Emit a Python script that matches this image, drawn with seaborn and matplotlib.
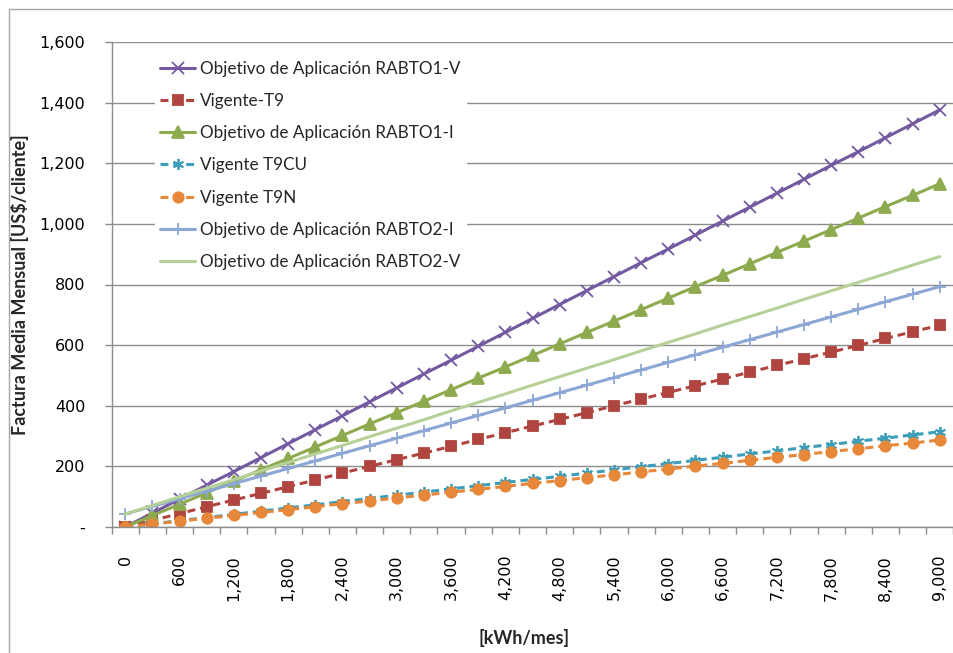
import matplotlib
matplotlib.use("Agg")
import matplotlib.pyplot as plt
from matplotlib.lines import Line2D
from matplotlib.ticker import FixedLocator, FuncFormatter
import seaborn as sns

# Monthly consumption categories [kWh/mes]
kwh = list(range(0, 9001, 300))

# Average monthly bill [US$/cliente] per tariff
rabto1_v = [0, 46, 92, 138, 183, 229, 275, 321, 367, 413, 459, 505, 550, 596, 642, 688,
            734, 780, 826, 872, 917, 963, 1009, 1055, 1101, 1147, 1193, 1238, 1284, 1330, 1376]
vigente_t9 = [0, 22, 44, 67, 89, 111, 133, 155, 178, 200, 222, 244, 266, 289, 311, 333,
              355, 377, 400, 422, 444, 466, 488, 511, 533, 555, 577, 599, 622, 644, 666]
rabto1_i = [0, 38, 75, 113, 151, 189, 226, 264, 302, 340, 377, 415, 453, 491, 528, 566,
            604, 642, 679, 717, 755, 793, 830, 868, 906, 943, 981, 1019, 1057, 1094, 1132]
vigente_t9cu = [0, 10, 21, 31, 42, 52, 63, 73, 84, 94, 105, 115, 126, 136, 147, 157,
                167, 178, 188, 199, 209, 220, 230, 241, 251, 262, 272, 283, 293, 304, 314]
vigente_t9n = [0, 10, 19, 29, 38, 48, 57, 67, 77, 86, 96, 105, 115, 124, 134, 144,
               153, 163, 172, 182, 191, 201, 210, 220, 230, 239, 249, 258, 268, 277, 287]
rabto2_i = [43, 68, 93, 118, 143, 168, 193, 218, 243, 268, 293, 318, 343, 368, 393, 418,
            443, 468, 493, 518, 543, 568, 593, 618, 643, 668, 693, 718, 743, 768, 793]
rabto2_v = [43, 71, 100, 128, 156, 185, 213, 241, 269, 298, 326, 354, 383, 411, 439, 468,
            496, 524, 552, 581, 609, 637, 666, 694, 722, 751, 779, 807, 835, 864, 892]

series_names = [
    "Objetivo de Aplicación RABTO1-V",
    "Vigente-T9",
    "Objetivo de Aplicación RABTO1-I",
    "Vigente T9CU",
    "Vigente T9N",
    "Objetivo de Aplicación RABTO2-I",
    "Objetivo de Aplicación RABTO2-V",
]
series_values = [rabto1_v, vigente_t9, rabto1_i, vigente_t9cu, vigente_t9n, rabto2_i, rabto2_v]

styles = [
    dict(color="#7359A0", marker="x", ms=8, ls="-"),
    dict(color="#B0443F", marker="s", ms=7, ls=(0, (2.6, 1.6))),
    dict(color="#8DAA4E", marker="^", ms=8, ls="-"),
    dict(color="#3C9EB8", marker=(6, 2, 0), ms=8, ls=(0, (2.6, 1.6))),
    dict(color="#E6873A", marker="o", ms=7.5, ls=(0, (2.6, 1.6))),
    dict(color="#8CA7D5", marker="+", ms=9, ls="-"),
    dict(color="#B5D198", marker=None, ms=0, ls="-"),
]

sns.set_theme(style="white")
plt.rcParams["font.family"] = ["Lato", "DejaVu Sans"]

fig = plt.figure(figsize=(9.54, 6.53), dpi=100)
ax = fig.add_axes([111.7 / 954, 126 / 653, 841.6 / 954, 485 / 653])

for name, vals, st in zip(series_names, series_values, styles):
    sns.lineplot(x=kwh, y=vals, ax=ax, label=name, color=st["color"],
                 marker=st["marker"], markersize=st["ms"], linestyle=st["ls"],
                 linewidth=2.2, markeredgecolor=st["color"], markeredgewidth=1.3,
                 markerfacecolor=st["color"])

ax.set_xlim(-150, 9150)
ax.set_ylim(0, 1600)

grid_c = "#8C8C8C"
ax.yaxis.set_major_locator(FixedLocator(list(range(0, 1601, 200))))
ax.yaxis.set_major_formatter(FuncFormatter(lambda v, p: "-" if v == 0 else f"{int(v):,}"))
ax.grid(axis="y", color=grid_c, linewidth=1.0)
ax.grid(axis="x", visible=False)
ax.set_axisbelow(True)

ax.xaxis.set_major_locator(FixedLocator(kwh[::2]))
ax.xaxis.set_major_formatter(FuncFormatter(lambda v, p: f"{int(v):,}"))
ax.xaxis.set_minor_locator(FixedLocator([k - 150 for k in kwh] + [9150]))
ax.tick_params(axis="x", which="major", length=0, pad=20, labelsize=11.5,
               labelrotation=90, labelcolor="black")
ax.tick_params(axis="x", which="minor", length=5, width=1, color=grid_c, direction="out",
               bottom=True)
ax.tick_params(axis="y", which="major", length=5, width=1, color=grid_c, direction="out",
               left=True, pad=14, labelsize=11.5, labelcolor="black")
for lab in ax.get_xticklabels():
    lab.set_verticalalignment("top")
    lab.set_family(["DejaVu Sans"])
for lab in ax.get_yticklabels():
    lab.set_family(["DejaVu Sans"])

for side in ["top", "right"]:
    ax.spines[side].set_visible(False)
for side in ["left", "bottom"]:
    ax.spines[side].set_color(grid_c)
    ax.spines[side].set_linewidth(1.0)

ax.set_ylabel("Factura Media Mensual [US$/cliente]", fontsize=13, fontweight="bold")
ax.set_xlabel("[kWh/mes]", fontsize=13, fontweight="bold")
ax.yaxis.set_label_coords(-0.098, 0.5)
ax.xaxis.set_label_coords(0.49, -0.21)

leg = ax.legend(loc="upper left", bbox_to_anchor=(0.0514, 0.972), fontsize=12.3,
                frameon=True, facecolor="white", edgecolor="white", framealpha=1,
                fancybox=False, borderpad=0.3, handlelength=2.05, handletextpad=0.3,
                labelspacing=0.95, borderaxespad=0)

# light chart-area border
border_c = "#A6A6A6"
fig.add_artist(Line2D([9 / 954, 9 / 954], [0, 1 - 9 / 653], color=border_c, lw=1,
                      transform=fig.transFigure))
fig.add_artist(Line2D([9 / 954, 1], [1 - 9 / 653, 1 - 9 / 653], color=border_c, lw=1,
                      transform=fig.transFigure))

fig.savefig("out.png", dpi=100)
